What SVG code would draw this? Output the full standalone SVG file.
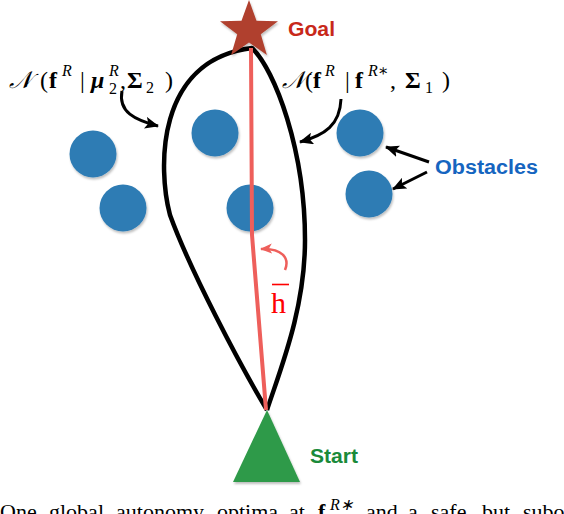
<svg xmlns="http://www.w3.org/2000/svg" width="564" height="514" viewBox="0 0 564 514">
<style>
.obs{fill:#2e7cb4}
.lbl{font-family:"Liberation Sans",Arial,sans-serif;font-weight:bold;font-size:20px}
.m{font-family:"Liberation Serif","DejaVu Serif",serif;font-size:24px;fill:#000}
.sup{font-size:16px;font-style:italic}
.sub{font-size:16px}
.cap{font-family:"Liberation Serif","Times New Roman",serif;font-size:22px;fill:#000}
.conn{fill:none;stroke:#000;stroke-width:3}
</style>
<defs>
<filter id="sh" x="-20%" y="-20%" width="150%" height="150%">
<feDropShadow dx="1" dy="2" stdDeviation="1.2" flood-color="#000" flood-opacity="0.25"/>
</filter>
<marker id="ah" markerUnits="userSpaceOnUse" markerWidth="14" markerHeight="12" refX="13" refY="6" orient="auto">
<path d="M0,0 L14,6 L0,12 L3,6 z" fill="#000"/>
</marker>
<marker id="ahr" markerUnits="userSpaceOnUse" markerWidth="12" markerHeight="10" refX="11" refY="5" orient="auto">
<path d="M0,0 L12,5 L0,10 L3,5 z" fill="#ee5f5b"/>
</marker>
</defs>
<rect width="564" height="514" fill="#fff"/>

<g id="obstacles">
<circle class="obs" cx="93" cy="154" r="23.5" filter="url(#sh)"/>
<circle class="obs" cx="123" cy="208" r="23.5" filter="url(#sh)"/>
<circle class="obs" cx="215" cy="133" r="23.5" filter="url(#sh)"/>
<circle class="obs" cx="250" cy="208" r="23.5" filter="url(#sh)"/>
<circle class="obs" cx="360" cy="133" r="23.5" filter="url(#sh)"/>
<circle class="obs" cx="369" cy="194" r="23.5" filter="url(#sh)"/>
</g>

<g id="paths">
<path d="M267,410 C240,365 190,270 170,215 C158,170 155,60 252,48 C275,70 305,150 305,240 C305,310 280,370 267,410" fill="none" stroke="#000" stroke-width="4.5" stroke-linejoin="round"/>
<polyline points="251,48 252,235 266,410" fill="none" stroke="#ee5f5b" stroke-width="4"/>
</g>

<g id="goal">
<polygon points="249,0 256.5,20.8 278,21.2 260.8,34.2 266.9,55 249,42.5 231.1,55 237.2,34.2 220,21.2 241.5,20.8" fill="#b0412f" filter="url(#sh)"/>
<text class="lbl" x="288" y="36" fill="#c8281a" textLength="47" lengthAdjust="spacingAndGlyphs">Goal</text>
</g>

<g id="start">
<polygon points="267,410 300,482 233,482" fill="#2e9a48" filter="url(#sh)"/>
<text class="lbl" x="310" y="463" fill="#1a8a3a" textLength="48" lengthAdjust="spacingAndGlyphs">Start</text>
</g>

<g id="obstacles-label">
<text class="lbl" x="435" y="174" fill="#1565c0" textLength="103" lengthAdjust="spacingAndGlyphs">Obstacles</text>
</g>

<g id="label-left">
<text class="m" y="88"><tspan x="9" font-style="italic">𝒩</tspan><tspan x="40">(</tspan><tspan x="49" font-weight="bold">f</tspan><tspan x="62" dy="-12" class="sup">R</tspan><tspan x="80" dy="12">|</tspan><tspan x="91" font-weight="bold" font-style="italic">μ</tspan><tspan x="109" dy="-12" class="sup">R</tspan><tspan x="109" dy="18" class="sub">2</tspan><tspan x="120" dy="-6">,</tspan><tspan x="127" font-weight="bold">Σ</tspan><tspan x="146" dy="5" class="sub">2</tspan><tspan x="165" dy="-5">)</tspan></text>
</g>

<g id="label-right">
<text class="m" y="88"><tspan x="282" font-style="italic">𝒩</tspan><tspan x="305">(</tspan><tspan x="313" font-weight="bold">f</tspan><tspan x="325" dy="-12" class="sup">R</tspan><tspan x="345" dy="12">|</tspan><tspan x="355" font-weight="bold">f</tspan><tspan x="368" dy="-12" class="sup">R∗</tspan><tspan x="390" dy="12">,</tspan><tspan x="405" font-weight="bold">Σ</tspan><tspan x="425" dy="5" class="sub">1</tspan><tspan x="442" dy="-5">)</tspan></text>
</g>

<g id="hbar">
<text x="271" y="313" font-family="'Liberation Serif',serif" font-size="30" fill="#ff0000">h</text>
<line x1="272" y1="284.5" x2="289" y2="284.5" stroke="#ff0000" stroke-width="1.6"/>
</g>

<g id="connectors">
<path class="conn" d="M122,91 C118,112 135,120 158,126" marker-end="url(#ah)"/>
<path class="conn" d="M341,99 C340,125 325,135 300,142" marker-end="url(#ah)"/>
<line class="conn" x1="429" y1="162" x2="386" y2="147" marker-end="url(#ah)"/>
<line class="conn" x1="427" y1="172" x2="393" y2="189" marker-end="url(#ah)"/>
<path d="M285,270 C290,258 282,248 261,249" fill="none" stroke="#ee5f5b" stroke-width="2.5" marker-end="url(#ahr)"/>
</g>

<g id="caption">
<text class="cap" y="519"><tspan x="0">One</tspan><tspan x="49">global</tspan><tspan x="116">autonomy</tspan><tspan x="217">optima</tspan><tspan x="289">at</tspan><tspan x="318" font-weight="bold">f</tspan><tspan x="330" dy="-9" font-size="16" font-style="italic">R∗</tspan><tspan x="366" dy="9">and</tspan><tspan x="408">a</tspan><tspan x="431">safe</tspan><tspan x="482">but</tspan><tspan x="523">subo</tspan></text>
</g>
</svg>
